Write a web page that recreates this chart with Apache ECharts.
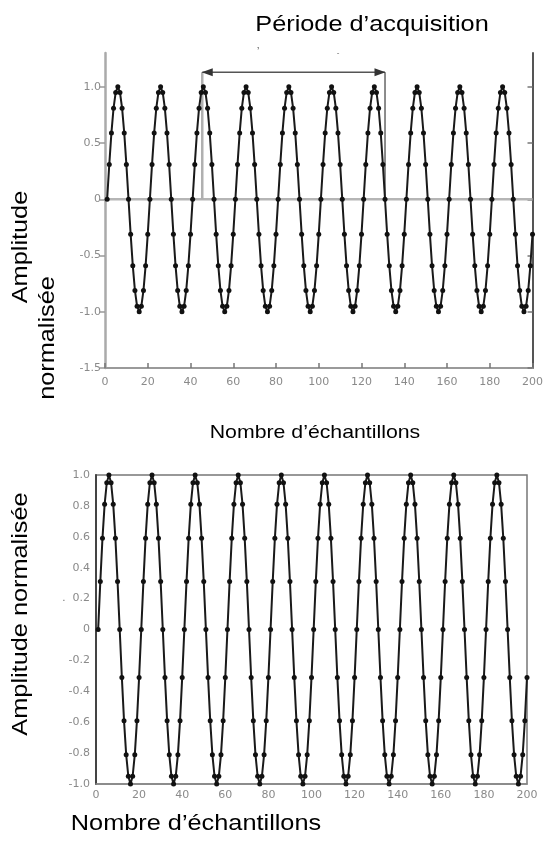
<!DOCTYPE html>
<html>
<head>
<meta charset="utf-8">
<script src="https://cdn.jsdelivr.net/npm/echarts@6/dist/echarts.min.js"></script>
<style>
html,body{margin:0;padding:0;background:#fff;}
#chart{width:546px;height:843px;}
</style>
</head>
<body>
<div id="chart"></div>
<script>
// ---- data ----
var amplitude = [
 0,0.31,0.59,0.81,0.95,1,0.95,0.81,0.59,0.31,0,-0.31,-0.59,-0.81,-0.95,-1,-0.95,-0.81,-0.59,-0.31,
 0,0.31,0.59,0.81,0.95,1,0.95,0.81,0.59,0.31,0,-0.31,-0.59,-0.81,-0.95,-1,-0.95,-0.81,-0.59,-0.31,
 0,0.31,0.59,0.81,0.95,1,0.95,0.81,0.59,0.31,0,-0.31,-0.59,-0.81,-0.95,-1,-0.95,-0.81,-0.59,-0.31,
 0,0.31,0.59,0.81,0.95,1,0.95,0.81,0.59,0.31,0,-0.31,-0.59,-0.81,-0.95,-1,-0.95,-0.81,-0.59,-0.31,
 0,0.31,0.59,0.81,0.95,1,0.95,0.81,0.59,0.31,0,-0.31,-0.59,-0.81,-0.95,-1,-0.95,-0.81,-0.59,-0.31,
 0,0.31,0.59,0.81,0.95,1,0.95,0.81,0.59,0.31,0,-0.31,-0.59,-0.81,-0.95,-1,-0.95,-0.81,-0.59,-0.31,
 0,0.31,0.59,0.81,0.95,1,0.95,0.81,0.59,0.31,0,-0.31,-0.59,-0.81,-0.95,-1,-0.95,-0.81,-0.59,-0.31,
 0,0.31,0.59,0.81,0.95,1,0.95,0.81,0.59,0.31,0,-0.31,-0.59,-0.81,-0.95,-1,-0.95,-0.81,-0.59,-0.31,
 0,0.31,0.59,0.81,0.95,1,0.95,0.81,0.59,0.31,0,-0.31,-0.59,-0.81,-0.95,-1,-0.95,-0.81,-0.59,-0.31,
 0,0.31,0.59,0.81,0.95,1,0.95,0.81,0.59,0.31,0,-0.31,-0.59,-0.81,-0.95,-1,-0.95,-0.81,-0.59,-0.31
];
var firstSample = 1;                       // samples are numbered from 1
var xTicks = [0,20,40,60,80,100,120,140,160,180,200];
var xTickLabels = ['0','20','40','60','80','100','120','140','160','180','200'];
var topYTicks = [-1.5,-1.0,-0.5,0,0.5,1.0];
var topYLabels = ['-1.5','-1.0','-0.5','0','0.5','1.0'];
var bottomYTicks = [-1.0,-0.8,-0.6,-0.4,-0.2,0,0.2,0.4,0.6,0.8,1.0];
var bottomYLabels = ['-1.0','-0.8','-0.6','-0.4','-0.2','0','0.2','0.4','0.6','0.8','1.0'];
var acquisitionStart = 45.5;   // left bracket of the acquisition period
var acquisitionEnd = 131;      // right bracket
var arrowLevel = 1.13;         // height of the double arrow
var zeroLevel = 0;

var points = amplitude.map(function (v, i) { return [i + firstSample, v]; });

function lookup(ticks, labels) {
  return function (val) {
    for (var i = 0; i < ticks.length; i++) {
      if (Math.abs(ticks[i] - val) < 1e-6) return labels[i];
    }
    return '';
  };
}

var tickFont = { color: '#8a8a8a', fontSize: 11, fontFamily: 'DejaVu Sans' };
var txtFont = 'Liberation Sans, Arial, sans-serif';
function label(text, x, y, size, rot) {
  return { type: 'text', x: x, y: y, rotation: rot || 0, scaleX: 1.15,
    style: { text: text, font: size + 'px ' + txtFont, fill: '#000',
      align: 'center', verticalAlign: 'middle', textAlign: 'center', textVerticalAlign: 'middle' } };
}

var chart = echarts.init(document.getElementById('chart'), null, { renderer: 'canvas' });
chart.setOption({
  animation: false,
  backgroundColor: '#fff',
  grid: [
    { left: 105, right: 11, top: 53, bottom: 475 },
    { left: 96, right: 19, top: 475, bottom: 59, show: true, borderColor: '#777', borderWidth: 1.5, backgroundColor: 'transparent' }
  ],
  xAxis: [
    { type: 'value', gridIndex: 0, min: 0, max: 200, interval: 20,
      axisLine: { show: true, onZero: false, lineStyle: { color: '#9a9a9a', width: 2 } },
      axisTick: { show: true, inside: true, length: 5, lineStyle: { color: '#777', width: 1.5 }, customValues: xTicks },
      axisLabel: Object.assign({ margin: 9, formatter: lookup(xTicks, xTickLabels), customValues: xTicks }, tickFont),
      splitLine: { show: false } },
    { type: 'value', gridIndex: 1, min: 0, max: 200, interval: 20,
      axisLine: { show: true, onZero: false, lineStyle: { color: '#888', width: 1.5 } },
      axisTick: { show: false },
      axisLabel: Object.assign({ margin: 6, formatter: lookup(xTicks, xTickLabels), customValues: xTicks }, tickFont),
      splitLine: { show: false } }
  ],
  yAxis: [
    { type: 'value', gridIndex: 0, min: -1.5, max: 1.3, interval: 0.5,
      axisLine: { show: true, onZero: false, lineStyle: { color: '#aaa', width: 2.5 } },
      axisTick: { show: true, inside: false, length: 5, lineStyle: { color: '#999', width: 1.5 }, customValues: topYTicks },
      axisLabel: Object.assign({ margin: 4, formatter: lookup(topYTicks, topYLabels), customValues: topYTicks }, tickFont),
      splitLine: { show: false } },
    { type: 'value', gridIndex: 0, position: 'right', min: -1.5, max: 1.3, interval: 0.5,
      axisLine: { show: true, onZero: false, lineStyle: { color: '#555', width: 2 } },
      axisTick: { show: true, inside: true, length: 5, lineStyle: { color: '#777', width: 1.5 }, customValues: topYTicks },
      axisLabel: { show: false },
      splitLine: { show: false } },
    { type: 'value', gridIndex: 1, min: -1, max: 1, interval: 0.2,
      axisLine: { show: true, onZero: false, lineStyle: { color: '#444', width: 2 } },
      axisTick: { show: false },
      axisLabel: Object.assign({ margin: 6, formatter: lookup(bottomYTicks, bottomYLabels), customValues: bottomYTicks }, tickFont),
      splitLine: { show: false } }
  ],
  series: [
    { type: 'line', xAxisIndex: 0, yAxisIndex: 0, z: 1, silent: true, showSymbol: false,
      data: [[xTicks[0], zeroLevel], [xTicks[xTicks.length - 1], zeroLevel]],
      lineStyle: { color: '#b5b5b5', width: 2.5 } },
    { type: 'line', xAxisIndex: 0, yAxisIndex: 0, z: 1, silent: true, showSymbol: false,
      data: [[acquisitionStart, zeroLevel], [acquisitionStart, arrowLevel]],
      lineStyle: { color: '#b0b0b0', width: 2.5 } },
    { type: 'line', xAxisIndex: 0, yAxisIndex: 0, z: 1, silent: true, showSymbol: false,
      data: [[acquisitionEnd, zeroLevel], [acquisitionEnd, arrowLevel]],
      lineStyle: { color: '#666', width: 1.5 } },
    { type: 'line', xAxisIndex: 0, yAxisIndex: 0, z: 4, silent: true,
      data: [
        { value: [acquisitionStart, arrowLevel], symbol: 'triangle', symbolRotate: 90, symbolSize: [8, 11], symbolOffset: [5, 0] },
        { value: [acquisitionEnd, arrowLevel], symbol: 'triangle', symbolRotate: -90, symbolSize: [8, 11], symbolOffset: [-5, 0] }
      ],
      itemStyle: { color: '#333' },
      lineStyle: { color: '#555', width: 1.5 } },
    { type: 'line', xAxisIndex: 0, yAxisIndex: 0, z: 3, data: points,
      symbol: 'circle', symbolSize: 5, showAllSymbol: true,
      itemStyle: { color: '#111' }, lineStyle: { color: '#1a1a1a', width: 2 } },
    { type: 'line', xAxisIndex: 1, yAxisIndex: 2, z: 3, data: points,
      symbol: 'circle', symbolSize: 5, showAllSymbol: true,
      itemStyle: { color: '#111' }, lineStyle: { color: '#1a1a1a', width: 2 } }
  ],
  graphic: [
    label('Période d\u2019acquisition', 372, 25, 22),
    label('Amplitude', 21, 247, 22, Math.PI / 2),
    label('normalisée', 48, 338, 22, Math.PI / 2),
    label('Nombre d\u2019échantillons', 315, 433, 18.5),
    label('Amplitude normalisée', 21, 614, 22, Math.PI / 2),
    label('Nombre d\u2019échantillons', 196, 824, 22),
    { type: 'text', x: 258, y: 52, style: { text: '\u2019', font: '10px ' + txtFont, fill: '#444', align: 'center', verticalAlign: 'middle', textAlign: 'center', textVerticalAlign: 'middle' } },
    { type: 'text', x: 338, y: 53, style: { text: '-', font: '8px ' + txtFont, fill: '#666', align: 'center', verticalAlign: 'middle', textAlign: 'center', textVerticalAlign: 'middle' } },
    { type: 'text', x: 64, y: 598, style: { text: '.', font: '10px ' + txtFont, fill: '#666', align: 'center', verticalAlign: 'middle', textAlign: 'center', textVerticalAlign: 'middle' } }
  ]
});
</script>
</body>
</html>
